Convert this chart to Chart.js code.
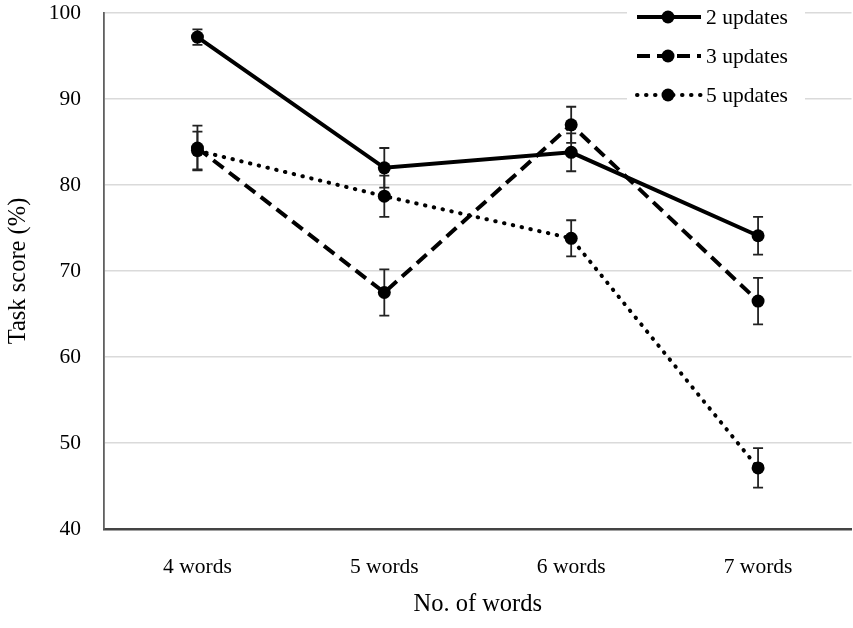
<!DOCTYPE html>
<html>
<head>
<meta charset="utf-8">
<script src="https://cdn.jsdelivr.net/npm/chart.js@4.4.1/dist/chart.umd.min.js"></script>
<style>
  html, body { margin: 0; padding: 0; background: #fff; overflow: hidden; }
  #wrap { width: 853px; height: 628px; overflow: hidden; }
</style>
</head>
<body>
<div id="wrap"><canvas id="chart" width="858" height="628"></canvas></div>
<script>
// categories and tick labels
const categories = ['4 words', '5 words', '6 words', '7 words'];
const yTicks = [40, 50, 60, 70, 80, 90, 100];

// series means (%) and error bar half-widths
const updates2 = [97.2, 82.0, 83.8, 74.1];
const updates3 = [84.3, 67.5, 87.0, 66.5];
const updates5 = [84.0, 78.7, 73.8, 47.1];
const err2 = [0.9, 2.3, 2.2, 2.2];
const err3 = [2.6, 2.7, 2.1, 2.7];
const err5 = [2.2, 2.4, 2.1, 2.3];

const seriesNames = ['2 updates', '3 updates', '5 updates'];

const serif = '"Liberation Serif", "Times New Roman", serif';

function makeSet(label, data, errs, dash, cap) {
    return {
        label: label,
        data: data,
        errors: errs,
        borderColor: '#000',
        backgroundColor: '#000',
        borderWidth: 4,
        borderDash: dash,
        borderCapStyle: cap,
        pointRadius: 6.5,
        pointHoverRadius: 6.5,
        pointBorderWidth: 0,
        pointBackgroundColor: '#000',
        tension: 0,
        fill: false
    };
}

// error bars, drawn before the lines so the markers sit on top
const errorBars = {
    id: 'errorBars',
    beforeDatasetsDraw: function(chart) {
        var ctx = chart.ctx;
        var xs = chart.scales.x, ys = chart.scales.y;
        ctx.save();
        ctx.strokeStyle = '#222';
        ctx.lineWidth = 1.8;
        ctx.setLineDash([]);
        chart.data.datasets.forEach(function(ds) {
            ds.data.forEach(function(v, i) {
                var x = xs.getPixelForValue(i);
                var top = ys.getPixelForValue(v + ds.errors[i]);
                var bot = ys.getPixelForValue(v - ds.errors[i]);
                ctx.beginPath();
                ctx.moveTo(x, top); ctx.lineTo(x, bot);
                ctx.moveTo(x - 5, top); ctx.lineTo(x + 5, top);
                ctx.moveTo(x - 5, bot); ctx.lineTo(x + 5, bot);
                ctx.stroke();
            });
        });
        ctx.restore();
    }
};

// legend in the top right corner, line sample with marker in the middle
const lineLegend = {
    id: 'lineLegend',
    afterDraw: function(chart) {
        var ctx = chart.ctx;
        ctx.save();
        ctx.fillStyle = '#fff';
        ctx.fillRect(627, 0, 178, 110);
        var rows = [17, 56, 95];
        chart.data.datasets.forEach(function(ds, i) {
            var y = rows[i];
            ctx.strokeStyle = '#000';
            ctx.lineWidth = 4;
            ctx.lineCap = ds.borderCapStyle;
            ctx.setLineDash(ds.borderDash);
            ctx.beginPath();
            ctx.moveTo(637, y);
            ctx.lineTo(701, y);
            ctx.stroke();
            ctx.setLineDash([]);
            ctx.beginPath();
            ctx.arc(668, y, 6.5, 0, Math.PI * 2);
            ctx.fillStyle = '#000';
            ctx.fill();
            ctx.fillStyle = '#000';
            ctx.font = '21.5px ' + serif;
            ctx.textBaseline = 'middle';
            ctx.textAlign = 'left';
            ctx.fillText(ds.label, 706, y + 1);
        });
        ctx.restore();
    }
};

new Chart(document.getElementById('chart').getContext('2d'), {
    type: 'line',
    data: {
        labels: categories,
        datasets: [
            makeSet(seriesNames[0], updates2, err2, [], 'butt'),
            makeSet(seriesNames[1], updates3, err3, [13, 7], 'butt'),
            makeSet(seriesNames[2], updates5, err5, [0.5, 8.5], 'round')
        ]
    },
    options: {
        responsive: false,
        animation: false,
        layout: { padding: { top: 13, right: 1, left: 0, bottom: 0 } },
        plugins: {
            legend: { display: false },
            tooltip: { enabled: false }
        },
        scales: {
            x: {
                offset: true,
                grid: { display: false, drawTicks: false },
                border: { color: '#444', width: 2.5 },
                ticks: {
                    color: '#000',
                    padding: 25,
                    font: { family: serif, size: 21.5 }
                },
                title: {
                    display: true,
                    text: 'No. of words',
                    color: '#000',
                    padding: { top: 0, bottom: 9 },
                    font: { family: serif, size: 24.5 }
                },
                afterFit: function(scale) {
                    scale.height = 99;
                    scale.paddingLeft = 0;
                    scale.paddingRight = 0;
                }
            },
            y: {
                min: 40,
                max: 100,
                afterBuildTicks: function(scale) {
                    scale.ticks = yTicks.map(function(v) { return { value: v }; });
                },
                grid: { color: '#dadada', lineWidth: 1.5, drawTicks: false },
                border: { color: '#606060', width: 1.8 },
                ticks: {
                    color: '#000',
                    padding: 23,
                    font: { family: serif, size: 21.5 }
                },
                title: {
                    display: true,
                    text: 'Task score (%)',
                    color: '#000',
                    padding: { top: 4, bottom: 0 },
                    font: { family: serif, size: 24.5 }
                },
                afterFit: function(scale) {
                    scale.width = 104;
                    scale.paddingTop = 0;
                    scale.paddingBottom = 0;
                }
            }
        }
    },
    plugins: [errorBars, lineLegend]
});
</script>
</body>
</html>
